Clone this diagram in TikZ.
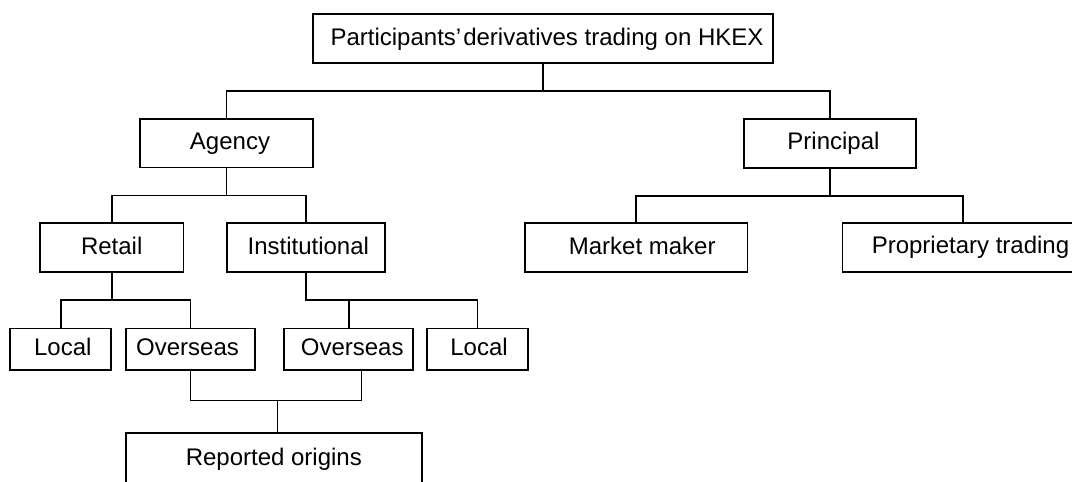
\documentclass[tikz,border=0pt]{standalone}
\usepackage{fontspec}
\setmainfont{Liberation Sans}
\begin{document}
\begin{tikzpicture}[x=1pt,y=-1pt,
  box/.style={draw=black, line width=1.7pt, inner sep=0pt, rectangle,
    font=\fontsize{24}{28}\selectfont, text height=17pt, text depth=4pt},
  link/.style={draw=black, line width=1.7pt}]
\useasboundingbox (0,0) rectangle (1072,482);
\clip (0,0) rectangle (1072,482);
% nodes
\node[box, minimum width=460pt, minimum height=49pt] (top) at (543,38.5) {\hspace*{8pt}Participants’\kern2pt derivatives trading on HKEX};
\node[box, minimum width=173pt, minimum height=48.5pt] (agency) at (226.5,143.3) {\hspace*{7pt}Agency};
\node[box, minimum width=172.6pt, minimum height=48.7pt] (principal) at (830,143.3) {\hspace*{7pt}Principal};
\node[box, minimum width=143.3pt, minimum height=49pt] (retail) at (111.7,247.8) {Retail};
\node[box, minimum width=158.3pt, minimum height=49pt] (inst) at (305.8,247.8) {\hspace*{5pt}Institutional};
\node[box, minimum width=222.3pt, minimum height=49pt] (mm) at (636.2,247.8) {\hspace*{12pt}Market maker};
\node[box, minimum width=256pt, minimum height=49.3pt] (prop) at (970.5,247.4) {Proprietary trading};
\node[box, minimum width=101pt, minimum height=41.7pt] (local1) at (60.8,349.2) {\hspace*{4pt}Local};
\node[box, minimum width=129.5pt, minimum height=41.7pt] (ov1) at (190.5,349.2) {Overseas\hspace*{6pt}};
\node[box, minimum width=129.1pt, minimum height=41.7pt] (ov2) at (348.7,349.2) {\hspace*{7pt}Overseas};
\node[box, minimum width=101pt, minimum height=41.7pt] (local2) at (477.5,349.2) {\hspace*{3pt}Local};
\node[box, minimum width=296pt, minimum height=52pt] (rep) at (273.8,458.7) {Reported origins};
% junctions
\coordinate (j0) at (543,91);
\coordinate (ja) at (226.5,195.5);
\coordinate (jp) at (830,195.7);
\coordinate (jr) at (111.7,300.3);
\coordinate (ji) at (305.8,300.3);
\coordinate (jo) at (277.5,400.4);
% connectors
\draw[link] (top.south) -- (j0);
\draw[link] (agency.north) |- (j0) -| (principal.north);
\draw[link] (agency.south) -- (ja);
\draw[link] (retail.north) |- (ja) -| (inst.north);
\draw[link] (principal.south) -- (jp);
\draw[link] (mm.north) |- (jp) -| ([xshift=121.4pt]prop.north west);
\draw[link] (retail.south) -- (jr);
\draw[link] (local1.north) |- (jr) -| (ov1.north);
\draw[link] (inst.south) -- (ji) -| (local2.north);
\draw[link] (ov2.north) -- (ov2.north |- ji);
\draw[link] (ov1.south) |- (jo) -| ([xshift=78.2pt]ov2.south west);
\draw[link] (jo) -- (rep.north -| jo);
\end{tikzpicture}
\end{document}
